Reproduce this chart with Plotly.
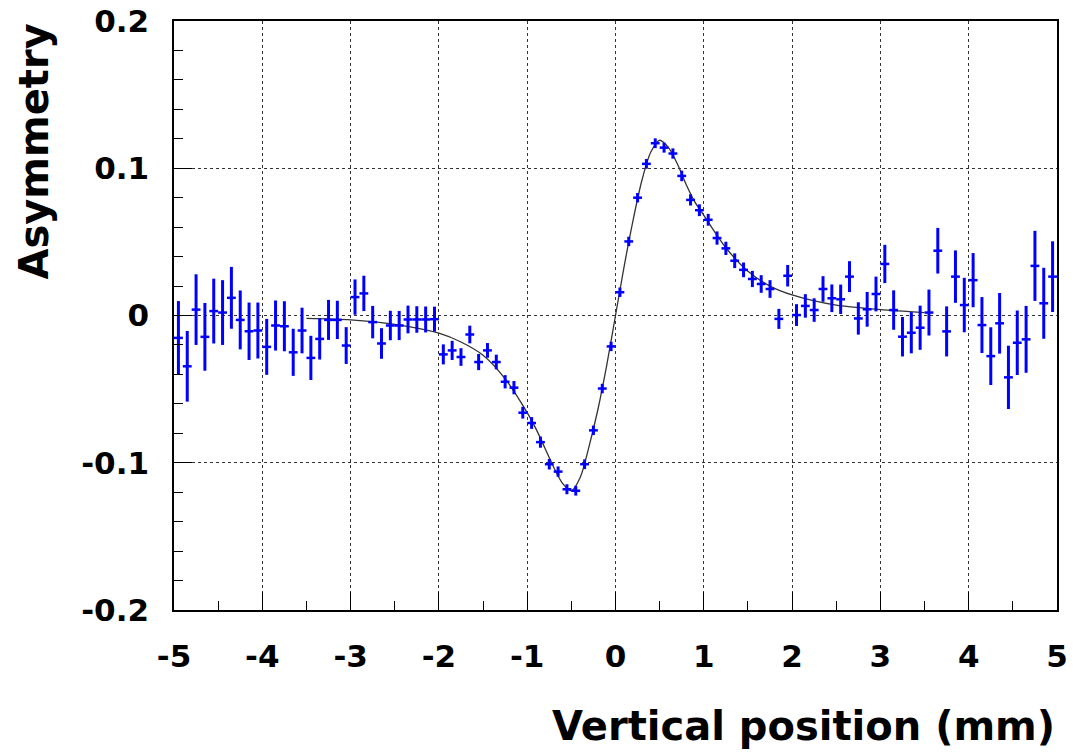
import plotly.graph_objects as go

# ---- data ----
bin_centers = [round(-4.95 + 0.1 * i, 2) for i in range(100)]

asym_left = [-0.0152, -0.0345, 0.004, -0.0145, 0.003, 0.002, 0.012, -0.003, -0.0107, -0.0102,
             -0.0213, -0.0068, -0.0073, -0.025, -0.0102, -0.0288, -0.0159, -0.003, -0.003, -0.0204,
             0.0125, 0.015, -0.0045, -0.019, -0.0068, -0.0068, -0.0027, -0.0027, -0.0027, -0.0025]
asym_mid_neg = [-0.0264, -0.0237, -0.0282, -0.0129, -0.0316, -0.0237, -0.0316, -0.045, -0.049, -0.066,
                -0.073, -0.086, -0.101, -0.106, -0.118, -0.119, -0.101, -0.078, -0.0496, -0.021]
asym_mid_pos = [0.0158, 0.0503, 0.080, 0.103, 0.117, 0.114, 0.110, 0.0948, 0.0785, 0.0715,
                0.065, 0.0526, 0.0456, 0.0372, 0.031, 0.0248, 0.0214, 0.018, -0.0023, 0.027]
asym_right = [0.0003, 0.0065, 0.0037, 0.018, 0.0117, 0.011, 0.0264, -0.002, 0.0042, 0.0146,
              0.035, 0.0037, -0.0144, -0.0117, -0.0083, 0.002, 0.044, -0.0108, 0.0264, 0.0071,
              0.024, -0.0065, -0.0276, -0.0053, -0.042, -0.0185, -0.0162, 0.0337, 0.0083, 0.0264]

err_left = [0.025, 0.024, 0.024, 0.023, 0.022, 0.022, 0.021, 0.020, 0.0195, 0.019,
            0.019, 0.017, 0.017, 0.016, 0.0155, 0.015, 0.014, 0.0136, 0.013, 0.0125,
            0.012, 0.012, 0.011, 0.0104, 0.010, 0.0099, 0.0094, 0.009, 0.0088, 0.0085]
err_mid_neg = [0.0068, 0.0065, 0.006, 0.006, 0.0055, 0.005, 0.005, 0.0045, 0.0045, 0.004,
               0.004, 0.0038, 0.0036, 0.0035, 0.0034, 0.0033, 0.0033, 0.0032, 0.0032, 0.0032]
err_mid_pos = [0.0032, 0.0032, 0.0032, 0.0033, 0.0033, 0.0034, 0.0035, 0.0036, 0.0038, 0.004,
               0.004, 0.0045, 0.0045, 0.005, 0.005, 0.0055, 0.006, 0.006, 0.0068, 0.0073]
err_right = [0.0074, 0.008, 0.008, 0.0087, 0.0094, 0.010, 0.0105, 0.011, 0.0118, 0.0118,
             0.013, 0.0134, 0.0134, 0.014, 0.015, 0.0156, 0.0155, 0.017, 0.0178, 0.0185,
             0.0184, 0.019, 0.0196, 0.0206, 0.0215, 0.0219, 0.0227, 0.0238, 0.0241, 0.024]

asymmetry = asym_left + asym_mid_neg + asym_mid_pos + asym_right
asym_err = err_left + err_mid_neg + err_mid_pos + err_right
bin_half_width = [0.05] * 100

fit_x = [-3.5, -3.0, -2.5, -2.0, -1.75, -1.5, -1.25, -1.0, -0.9, -0.8, -0.7, -0.6, -0.5,
         -0.4, -0.3, -0.2, -0.1, 0.0, 0.1, 0.2, 0.3, 0.4, 0.5, 0.6, 0.7, 0.8, 0.9, 1.0,
         1.25, 1.5, 1.75, 2.0, 2.5, 3.0, 3.5]
fit_y = [-0.002, -0.003, -0.006, -0.012, -0.018, -0.027, -0.043, -0.066, -0.077, -0.090,
         -0.103, -0.114, -0.119, -0.110, -0.089, -0.064, -0.034, 0.0, 0.034, 0.065, 0.092,
         0.111, 0.119, 0.114, 0.103, 0.089, 0.077, 0.068, 0.046, 0.030, 0.020, 0.014, 0.007,
         0.004, 0.002]

x_tickvals = [-5, -4, -3, -2, -1, 0, 1, 2, 3, 4, 5]
x_ticktext = ["-5", "-4", "-3", "-2", "-1", "0", "1", "2", "3", "4", "5"]
y_tickvals = [-0.2, -0.1, 0, 0.1, 0.2]
y_ticktext = ["-0.2", "-0.1", "0", "0.1", "0.2"]

FONT = "DejaVu Sans"

fig = go.Figure()

fig.add_trace(go.Scatter(
    x=fit_x, y=fit_y, mode="lines",
    line=dict(color="#333333", width=1.3, shape="spline", smoothing=0.8),
    hoverinfo="skip", showlegend=False,
))

fig.add_trace(go.Scatter(
    x=bin_centers, y=asymmetry, mode="markers",
    marker=dict(size=1, color="#0000ff"),
    error_y=dict(type="data", array=asym_err, visible=True, color="#0000ff",
                 thickness=3, width=0),
    error_x=dict(type="data", array=bin_half_width, visible=True, color="#0000ff",
                 thickness=2.5, width=0),
    showlegend=False,
))

axis_common = dict(
    showline=True, linecolor="black", linewidth=1.5, mirror=True,
    ticks="inside", ticklen=18, tickwidth=1, tickcolor="black",
    showgrid=True, gridcolor="#333333", griddash="dot", gridwidth=1.3,
    zeroline=False, automargin=False,
    tickfont=dict(family=FONT, size=31, color="black", weight="bold"),
    tickmode="array",
)

fig.update_xaxes(
    **axis_common, range=[-5, 5], tickvals=x_tickvals, ticktext=x_ticktext,
    ticklabelstandoff=18,
    minor=dict(ticks="inside", ticklen=9, tickcolor="black", tickwidth=1,
               tickmode="linear", tick0=-5, dtick=0.5, showgrid=False),
)
fig.update_yaxes(
    **axis_common, range=[-0.2, 0.2], tickvals=y_tickvals, ticktext=y_ticktext,
    ticklabelstandoff=17,
    minor=dict(ticks="inside", ticklen=9, tickcolor="black", tickwidth=1,
               tickmode="linear", tick0=-0.2, dtick=0.02, showgrid=False),
)

fig.update_layout(
    width=1091, height=755,
    margin=dict(l=174, r=34, t=21, b=145),
    paper_bgcolor="white", plot_bgcolor="white",
    annotations=[
        dict(text="Vertical position (mm)", xref="paper", yref="paper",
             x=1.0, y=-0.155, xanchor="right", yanchor="top", showarrow=False,
             font=dict(family=FONT, size=40, color="black", weight="bold")),
        dict(text="Asymmetry", xref="paper", yref="paper", textangle=-90,
             x=-0.158, y=1.0, xanchor="center", yanchor="top", showarrow=False,
             font=dict(family=FONT, size=40, color="black", weight="bold")),
    ],
)

fig.write_html("out.html")
